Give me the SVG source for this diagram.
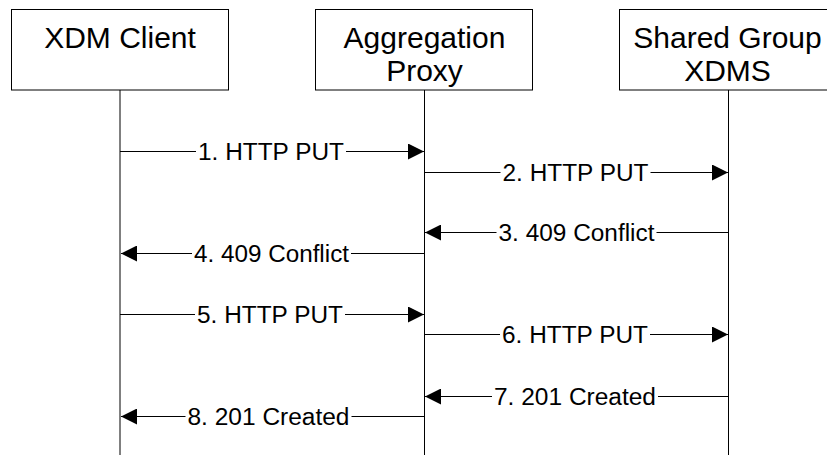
<svg xmlns="http://www.w3.org/2000/svg" width="827" height="455" viewBox="0 0 827 455">
  <defs>
    <marker id="arrow" markerUnits="userSpaceOnUse" markerWidth="16" markerHeight="16" refX="16" refY="8" orient="auto">
      <path d="M0,0 L16,8 L0,16 z" fill="#000"/>
    </marker>
    <style>
      .box { fill: #fff; stroke: #000; stroke-width: 1; }
      .title { font-family: "Liberation Sans", Arial, sans-serif; font-size: 30px; fill: #000; text-anchor: middle; }
      .life { stroke: #000; stroke-width: 1; fill: none; }
      .msg { stroke: #000; stroke-width: 1; fill: none; marker-end: url(#arrow); }
      .lblbg { fill: #fff; stroke: none; }
      .lbl { font-family: "Liberation Sans", Arial, sans-serif; font-size: 23px; fill: #000; text-anchor: middle; }
    </style>
  </defs>
  <rect x="0" y="0" width="827" height="455" fill="#fff"/>

  <g id="node-xdm-client">
    <rect class="box" x="11.5" y="9.5" width="217" height="80.5"/>
    <text class="title" x="120" y="48">XDM Client</text>
    <line class="life" x1="120" y1="90" x2="120" y2="455"/>
  </g>

  <g id="node-aggregation-proxy">
    <rect class="box" x="315.5" y="9.5" width="217" height="80.5"/>
    <text class="title" x="424.5" y="47.5">Aggregation</text>
    <text class="title" x="424.5" y="81">Proxy</text>
    <line class="life" x1="424.5" y1="90" x2="424.5" y2="455"/>
  </g>

  <g id="node-shared-group-xdms">
    <rect class="box" x="619.5" y="9.5" width="217" height="80.5"/>
    <text class="title" x="727.5" y="47.5">Shared Group</text>
    <text class="title" x="727.5" y="81">XDMS</text>
    <line class="life" x1="728.5" y1="90" x2="728.5" y2="455"/>
  </g>

  <g id="connectors">
    <line class="msg" x1="120" y1="151.5" x2="424" y2="151.5"/>
    <line class="msg" x1="424.5" y1="172.5" x2="728" y2="172.5"/>
    <line class="msg" x1="728.5" y1="232.5" x2="425" y2="232.5"/>
    <line class="msg" x1="424.5" y1="253.5" x2="121" y2="253.5"/>
    <line class="msg" x1="120" y1="314.5" x2="424" y2="314.5"/>
    <line class="msg" x1="424.5" y1="334.5" x2="728" y2="334.5"/>
    <line class="msg" x1="728.5" y1="396.5" x2="425" y2="396.5"/>
    <line class="msg" x1="424.5" y1="416.5" x2="121" y2="416.5"/>

    <rect class="lblbg" x="196" y="141" width="150" height="22"/>
    <text class="lbl" x="271" y="160" textLength="146" lengthAdjust="spacingAndGlyphs">1. HTTP PUT</text>

    <rect class="lblbg" x="500.5" y="162" width="150" height="22"/>
    <text class="lbl" x="575.5" y="181" textLength="146" lengthAdjust="spacingAndGlyphs">2. HTTP PUT</text>

    <rect class="lblbg" x="496.5" y="222" width="160" height="22"/>
    <text class="lbl" x="576.5" y="241" textLength="156" lengthAdjust="spacingAndGlyphs">3. 409 Conflict</text>

    <rect class="lblbg" x="192" y="243" width="159" height="22"/>
    <text class="lbl" x="271.5" y="262" textLength="155" lengthAdjust="spacingAndGlyphs">4. 409 Conflict</text>

    <rect class="lblbg" x="195" y="304" width="150" height="22"/>
    <text class="lbl" x="270" y="323" textLength="146" lengthAdjust="spacingAndGlyphs">5. HTTP PUT</text>

    <rect class="lblbg" x="500" y="324" width="150" height="22"/>
    <text class="lbl" x="575" y="343" textLength="146" lengthAdjust="spacingAndGlyphs">6. HTTP PUT</text>

    <rect class="lblbg" x="492" y="386" width="166" height="22"/>
    <text class="lbl" x="575" y="405" textLength="162" lengthAdjust="spacingAndGlyphs">7. 201 Created</text>

    <rect class="lblbg" x="185.5" y="406" width="166" height="22"/>
    <text class="lbl" x="268.5" y="425" textLength="162" lengthAdjust="spacingAndGlyphs">8. 201 Created</text>
  </g>
</svg>
